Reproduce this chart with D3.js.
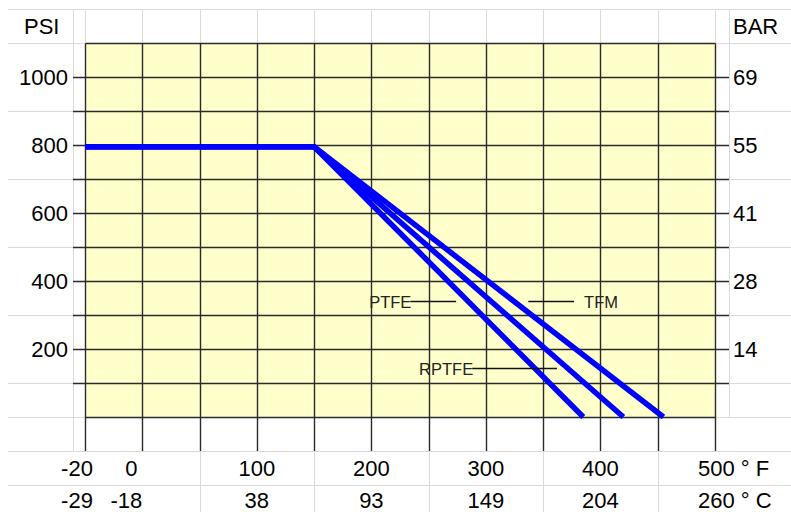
<!DOCTYPE html>
<html>
<head>
<meta charset="utf-8">
<script src="https://cdn.jsdelivr.net/npm/d3@7"></script>
<style>
  body { margin: 0; background: #fff; }
  svg { display: block; font-family: "Liberation Sans", Arial, sans-serif; }
</style>
</head>
<body>
<div id="chart"></div>
<script>
// temperature gridlines (deg F) and pressure gridlines (psi)
const gridF = [-20, 0, 50, 100, 150, 200, 250, 300, 350, 400, 450, 500];
const gridPsi = [0, 100, 200, 300, 400, 500, 600, 700, 800, 900, 1000, 1100];

// tick labels
const tickF = [-20, 0, 100, 200, 300, 400, 500];
const labelF = ["-20", "0", "100", "200", "300", "400", "500 ° F"];
const labelC = ["-29", "-18", "38", "93", "149", "204", "260 ° C"];
const tickPsi = [200, 400, 600, 800, 1000];
const labelPsi = ["200", "400", "600", "800", "1000"];
const labelBar = ["14", "28", "41", "55", "69"];

// seat ratings
const seatNames = ["PTFE", "RPTFE", "TFM"];
const ptfeF = [-20, 150, 385];
const ptfePsi = [795, 795, 0];
const rptfeF = [-20, 150, 420];
const rptfePsi = [795, 795, 0];
const tfmF = [-20, 150, 455];
const tfmPsi = [795, 795, 0];

// callouts: label, leader start/end (deg F), pressure (psi), text side
const callouts = [
    {name: "PTFE", f0: 234, f1: 274, psi: 340, side: "left"},
    {name: "TFM", f0: 337, f1: 377, psi: 340, side: "right"},
    {name: "RPTFE", f0: 288, f1: 362, psi: 143, side: "left"}
];

const width = 791, height = 512;

const svg = d3.select("#chart").append("svg")
    .attr("width", width)
    .attr("height", height);

// x scale: the first column is squeezed (-20 sits at the left edge)
const x = d3.scaleLinear()
    .domain([-20, 0, 500])
    .range([85, 142.3, 715]);

const y = d3.scaleLinear()
    .domain([0, 1100])
    .range([417, 43]);

// snap to pixel centres so every gridline comes out the same weight
const px = v => Math.round(v) + 0.5;

// spreadsheet cell grid behind the chart
const cell = svg.append("g")
    .attr("stroke", "#dadada")
    .attr("stroke-width", 1);

const rowY = [9, 43, 111, 179, 247, 315, 383, 417, 451, 485];
cell.selectAll(".row")
    .data(rowY)
    .enter().append("line")
    .attr("x1", 8).attr("x2", width)
    .attr("y1", d => px(d)).attr("y2", d => px(d));

// top band columns
cell.selectAll(".topcol")
    .data(gridF.map(x).concat([73, 729]))
    .enter().append("line")
    .attr("x1", d => px(d)).attr("x2", d => px(d))
    .attr("y1", 9).attr("y2", 43);

cell.append("line").attr("x1", px(73)).attr("x2", px(73)).attr("y1", 9).attr("y2", 451);
cell.append("line").attr("x1", px(729)).attr("x2", px(729)).attr("y1", 9).attr("y2", 417);

// bottom band: label cells span two columns
cell.selectAll(".botcol")
    .data([50, 150, 250, 350, 450].map(x))
    .enter().append("line")
    .attr("x1", d => px(d)).attr("x2", d => px(d))
    .attr("y1", 451).attr("y2", height);

// plot area
svg.append("rect")
    .attr("x", px(x(-20)))
    .attr("y", px(y(1100)))
    .attr("width", px(x(500)) - px(x(-20)))
    .attr("height", px(y(0)) - px(y(1100)))
    .attr("fill", "#ffffcc");

const grid = svg.append("g")
    .attr("stroke", "#2a2a2a")
    .attr("stroke-width", 1.4);

// horizontal gridlines, inner ones run out as ticks on both sides
grid.selectAll(".hline")
    .data(gridPsi)
    .enter().append("line")
    .attr("x1", d => (d === 0 || d === 1100) ? px(x(-20)) : 73)
    .attr("x2", d => (d === 0 || d === 1100) ? px(x(500)) : 729)
    .attr("y1", d => px(y(d)))
    .attr("y2", d => px(y(d)));

// vertical gridlines, running down as ticks
grid.selectAll(".vline")
    .data(gridF)
    .enter().append("line")
    .attr("x1", d => px(x(d)))
    .attr("x2", d => px(x(d)))
    .attr("y1", px(y(1100)))
    .attr("y2", 451);

// seat rating lines
const seats = [
    d3.zip(ptfeF, ptfePsi),
    d3.zip(rptfeF, rptfePsi),
    d3.zip(tfmF, tfmPsi)
];

const line = d3.line()
    .x(d => x(d[0]))
    .y(d => y(d[1]));

svg.selectAll(".seat")
    .data(seats)
    .enter().append("path")
    .attr("class", "seat")
    .attr("d", line)
    .attr("fill", "none")
    .attr("stroke", "#0000ff")
    .attr("stroke-width", 5.5)
    .attr("stroke-linejoin", "miter");

// callouts
const call = svg.selectAll(".callout")
    .data(callouts)
    .enter().append("g");

call.append("line")
    .attr("x1", d => x(d.f0))
    .attr("x2", d => x(d.f1))
    .attr("y1", d => y(d.psi))
    .attr("y2", d => y(d.psi))
    .attr("stroke", "#111")
    .attr("stroke-width", 1.5);

call.append("text")
    .attr("x", d => d.side === "left" ? x(d.f0) + 1 : x(d.f1) + 10)
    .attr("y", d => y(d.psi) + 1)
    .attr("dy", "0.35em")
    .attr("text-anchor", d => d.side === "left" ? "end" : "start")
    .attr("font-size", "16.5px")
    .attr("fill", "#222")
    .text(d => d.name);

// axis labels
const fontSize = "22px";

svg.append("text")
    .attr("x", 24).attr("y", 26).attr("dy", "0.35em")
    .attr("font-size", fontSize)
    .text("PSI");

svg.append("text")
    .attr("x", 733).attr("y", 26).attr("dy", "0.35em")
    .attr("font-size", fontSize)
    .text("BAR");

svg.selectAll(".psi")
    .data(tickPsi)
    .enter().append("text")
    .attr("x", 68)
    .attr("y", d => y(d))
    .attr("dy", "0.35em")
    .attr("text-anchor", "end")
    .attr("font-size", fontSize)
    .text((d, i) => labelPsi[i]);

svg.selectAll(".bar")
    .data(tickPsi)
    .enter().append("text")
    .attr("x", 733)
    .attr("y", d => y(d))
    .attr("dy", "0.35em")
    .attr("font-size", fontSize)
    .text((d, i) => labelBar[i]);

// temperature rows; first two cells are left-shifted, last one is left-aligned
function tempRow(labels, rowY, shift0) {
    svg.selectAll(null)
        .data(tickF)
        .enter().append("text")
        .attr("x", (d, i) => {
            if (i === 0) return x(d) - 8;
            if (i === 1) return x(d) - shift0;
            if (i === labels.length - 1) return x(d) - 17;
            return x(d);
        })
        .attr("y", rowY)
        .attr("dy", "0.35em")
        .attr("text-anchor", (d, i) => i === labels.length - 1 ? "start" : "middle")
        .attr("font-size", fontSize)
        .text((d, i) => labels[i]);
}

tempRow(labelF, 468, 11);
tempRow(labelC, 500, 16);
</script>
</body>
</html>
